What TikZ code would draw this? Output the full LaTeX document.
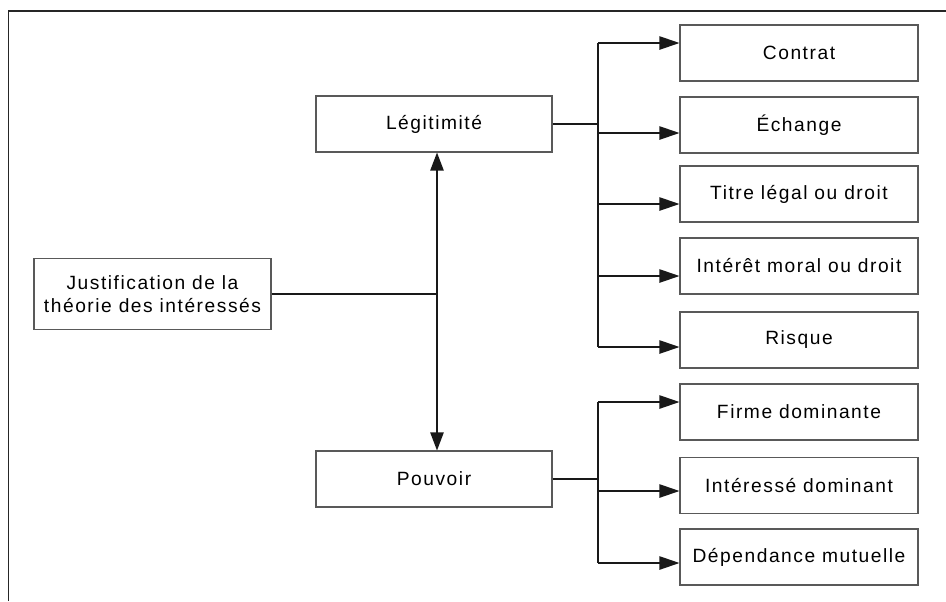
\documentclass[tikz,border=0pt]{standalone}
\usepackage{fontspec}
\setmainfont{Liberation Sans}[LetterSpace=8]
\usetikzlibrary{arrows.meta}
\begin{document}
\begin{tikzpicture}[x=0.75pt,y=-0.75pt,
  box/.style={draw=black!65, line width=0.8pt, minimum width=178.5pt,
    minimum height=42pt, inner sep=0pt, align=center,
    font=\fontsize{14.4}{17.25}\selectfont},
  conn/.style={line width=1pt, black!90},
  arr/.style={conn, -{Triangle[length=15pt,width=10pt]}},
  varr/.style={conn, {Triangle[length=13.5pt,width=10pt]}-{Triangle[length=13.5pt,width=10pt]}}]
\useasboundingbox (0,0) rectangle (946,601);
\draw[line width=1.3pt, black!85] (8.5,601) -- (8.5,11) -- (946,11);

\node[box, minimum width=177.75pt, minimum height=53.25pt] (J) at (152.5,294) {Justification de la\\théorie des intéressés};
\node[box, minimum width=177pt] (L) at (434,124) {Légitimité};
\node[box, minimum width=177pt] (P) at (434,479) {Pouvoir};

\node[box] (C1) at (799,53) {Contrat};
\node[box] (C2) at (799,125) {Échange};
\node[box] (C3) at (799,194) {Titre légal ou droit};
\node[box] (C4) at (799,266) {Intérêt moral ou droit};
\node[box] (C5) at (799,340) {Risque};
\node[box] (D1) at (799,412) {Firme dominante};
\node[box] (D2) at (799,485.5) {Intéressé dominant};
\node[box] (D3) at (799,557) {Dépendance mutuelle};

% central junction
\coordinate (jn) at (437,294);
\draw[conn] (J.east) -- (jn);
\draw[varr] (jn |- L.south) -- (jn |- P.north);

% legitimite bracket
\coordinate (b1) at (598,43);
\coordinate (b2) at (598,133);
\coordinate (b3) at (598,204);
\coordinate (b4) at (598,276);
\coordinate (b5) at (598,347);
\draw[conn] (L.east) -- (L.east -| b1);
\draw[conn] (b1) -- (b5);
\draw[arr] (b1) -- (b1 -| C1.west);
\draw[arr] (b2) -- (b2 -| C2.west);
\draw[arr] (b3) -- (b3 -| C3.west);
\draw[arr] (b4) -- (b4 -| C4.west);
\draw[arr] (b5) -- (b5 -| C5.west);

% pouvoir bracket
\coordinate (p1) at (598,402);
\coordinate (p2) at (598,491);
\coordinate (p3) at (598,563);
\draw[conn] (P.east) -- (P.east -| p1);
\draw[conn] (p1) -- (p3);
\draw[arr] (p1) -- (p1 -| D1.west);
\draw[arr] (p2) -- (p2 -| D2.west);
\draw[arr] (p3) -- (p3 -| D3.west);
\end{tikzpicture}
\end{document}
